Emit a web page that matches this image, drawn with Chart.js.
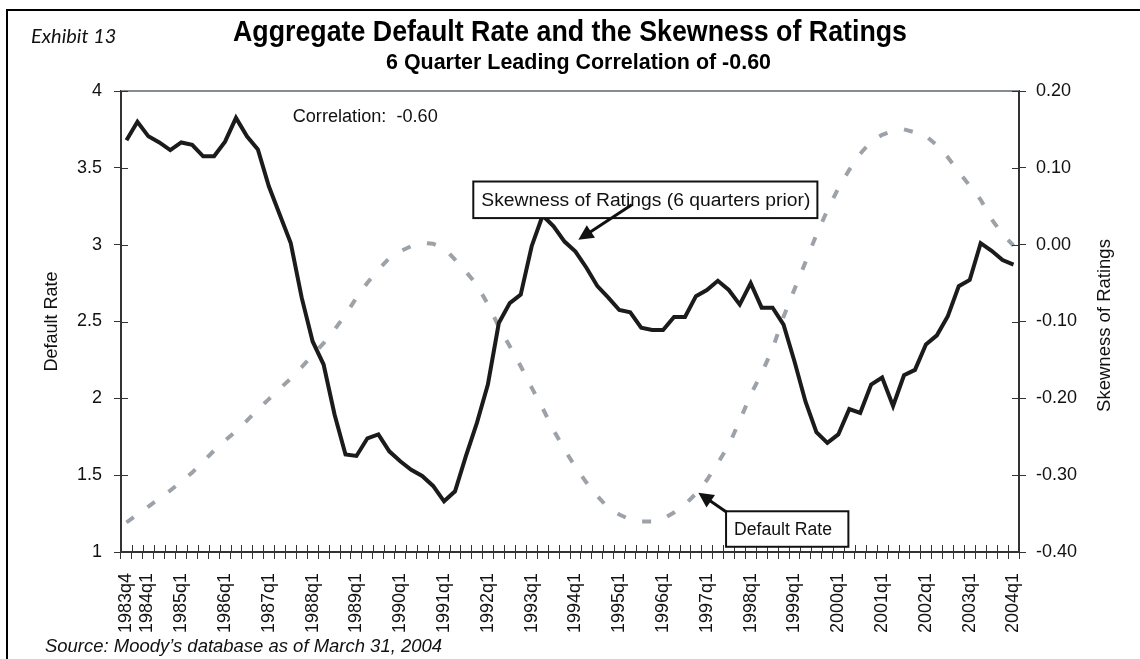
<!DOCTYPE html>
<html><head><meta charset="utf-8">
<script src="https://cdn.jsdelivr.net/npm/chart.js@4.4.1/dist/chart.umd.min.js"></script>
<style>html,body{margin:0;padding:0;background:#fff;}#wrap{width:1140px;height:659px;}</style>
</head><body><div id="wrap"><canvas id="c" width="1140" height="659"></canvas></div>
<script>
// ---- data ----
const quarters = [
 '1983q4',
 '1984q1','1984q2','1984q3','1984q4','1985q1','1985q2','1985q3','1985q4',
 '1986q1','1986q2','1986q3','1986q4','1987q1','1987q2','1987q3','1987q4',
 '1988q1','1988q2','1988q3','1988q4','1989q1','1989q2','1989q3','1989q4',
 '1990q1','1990q2','1990q3','1990q4','1991q1','1991q2','1991q3','1991q4',
 '1992q1','1992q2','1992q3','1992q4','1993q1','1993q2','1993q3','1993q4',
 '1994q1','1994q2','1994q3','1994q4','1995q1','1995q2','1995q3','1995q4',
 '1996q1','1996q2','1996q3','1996q4','1997q1','1997q2','1997q3','1997q4',
 '1998q1','1998q2','1998q3','1998q4','1999q1','1999q2','1999q3','1999q4',
 '2000q1','2000q2','2000q3','2000q4','2001q1','2001q2','2001q3','2001q4',
 '2002q1','2002q2','2002q3','2002q4','2003q1','2003q2','2003q3','2003q4',
 '2004q1'
];
// Skewness of Ratings (6 quarters prior) - right axis (black solid)
const skewness = [
 0.136,
 0.160,0.141,0.133,0.123,0.133,0.130,0.115,0.115,
 0.134,0.165,0.141,0.124,0.076,0.039,0.002,-0.069,
 -0.126,-0.156,-0.221,-0.273,-0.275,-0.252,-0.247,-0.269,
 -0.282,-0.293,-0.301,-0.314,-0.334,-0.321,-0.275,-0.232,
 -0.182,-0.102,-0.076,-0.065,-0.002,0.038,0.024,0.004,
 -0.009,-0.030,-0.054,-0.069,-0.085,-0.088,-0.108,-0.111,
 -0.111,-0.094,-0.094,-0.067,-0.059,-0.047,-0.059,-0.078,
 -0.050,-0.082,-0.082,-0.104,-0.152,-0.204,-0.244,-0.258,
 -0.247,-0.214,-0.219,-0.182,-0.173,-0.210,-0.170,-0.163,
 -0.130,-0.118,-0.093,-0.054,-0.046,0.002,-0.008,-0.020,
 -0.026
];
// Default Rate - left axis (gray dashed)
const defaultRate = [
 1.192,
 1.244,1.296,1.348,1.400,1.458,1.517,1.588,1.660,
 1.725,1.787,1.855,1.927,1.995,2.063,2.128,2.203,
 2.281,2.359,2.447,2.544,2.655,2.752,2.837,2.912,
 2.957,2.990,3.012,3.006,2.978,2.902,2.824,2.739,
 2.612,2.466,2.339,2.209,2.070,1.936,1.793,1.666,
 1.553,1.452,1.364,1.286,1.244,1.211,1.198,1.198,
 1.215,1.257,1.309,1.380,1.468,1.579,1.696,1.855,
 2.024,2.164,2.323,2.531,2.710,2.886,3.064,3.224,
 3.367,3.487,3.591,3.672,3.715,3.741,3.750,3.731,
 3.708,3.646,3.568,3.474,3.383,3.292,3.165,3.068,
 2.993
];
const leftTicks = [1, 1.5, 2, 2.5, 3, 3.5, 4];
const rightTicks = [-0.4, -0.3, -0.2, -0.1, 0, 0.1, 0.2];

// ---- annotation placement (in data units: category index, left-axis value) ----
const noteCorrelation = {text: 'Correlation:  -0.60', x: 15.18, y: 3.83};
const noteSkew = {text: 'Skewness of Ratings (6 quarters prior)', x0: 31.67, x1: 63.09, y0: 3.411, y1: 3.173, textW: 329,
  arrow: {fx: 46.14, fy: 3.259, tx: 41.26, ty: 3.032}};
const noteDefault = {text: 'Default Rate', x0: 54.75, x1: 65.92, y0: 1.265, y1: 1.034, textW: 98,
  arrow: {fx: 54.81, fy: 1.259, tx: 52.22, ty: 1.385}};

const SANS = "'Liberation Sans', Arial, Helvetica, sans-serif";
const INK = '#111';
const AX = '#333';

function line(ctx, x1, y1, x2, y2) { ctx.beginPath(); ctx.moveTo(x1, y1); ctx.lineTo(x2, y2); ctx.stroke(); }
// draw text squeezed/stretched horizontally to a target width
function fitText(ctx, text, x, y, w, align) {
  const m = ctx.measureText(text).width;
  ctx.save();
  ctx.translate(x, y);
  ctx.scale(w / m, 1);
  ctx.textAlign = align;
  ctx.fillText(text, 0, 0);
  ctx.restore();
}
function arrow(ctx, fx, fy, tx, ty) {
  const ang = Math.atan2(ty - fy, tx - fx), L = 15, W = 7.5;
  const bx = tx - L * Math.cos(ang), by = ty - L * Math.sin(ang);
  ctx.lineWidth = 3; ctx.strokeStyle = INK; ctx.fillStyle = INK;
  line(ctx, fx, fy, bx + 3 * Math.cos(ang), by + 3 * Math.sin(ang));
  ctx.beginPath();
  ctx.moveTo(tx, ty);
  ctx.lineTo(bx + W * Math.sin(ang), by - W * Math.cos(ang));
  ctx.lineTo(bx - W * Math.sin(ang), by + W * Math.cos(ang));
  ctx.closePath(); ctx.fill();
}

const decor = {
  id: 'decor',
  beforeDraw(chart) {
    const ctx = chart.ctx;
    ctx.save(); ctx.fillStyle = '#fff'; ctx.fillRect(0, 0, chart.width, chart.height); ctx.restore();
  },
  afterDatasetsDraw(chart) {
    const ctx = chart.ctx, ca = chart.chartArea;
    const xs = chart.scales.x, ys = chart.scales.y, yr = chart.scales.y1;
    const X = v => xs.getPixelForValue(v), Y = v => ys.getPixelForValue(v);
    ctx.save();
    // outer frame (top and left)
    ctx.strokeStyle = '#000'; ctx.lineWidth = 2;
    ctx.beginPath(); ctx.moveTo(7, chart.height); ctx.lineTo(7, 10); ctx.lineTo(chart.width, 10); ctx.stroke();
    // plot-area top border
    ctx.strokeStyle = '#858c92'; ctx.lineWidth = 2;
    line(ctx, ca.left, ca.top, ca.right, ca.top);
    // inner halves of the cross tick marks
    ctx.strokeStyle = AX; ctx.lineWidth = 1;
    ys.ticks.forEach(t => { const p = Math.round(ys.getPixelForValue(t.value)) + 0.5; line(ctx, ca.left, p, ca.left + 7, p); });
    yr.ticks.forEach(t => { const p = Math.round(yr.getPixelForValue(t.value)) + 0.5; line(ctx, ca.right - 7, p, ca.right, p); });
    for (let i = 0; i <= quarters.length; i++) {
      const p = Math.round(xs.getPixelForValue(i - 0.5)) + 0.5;
      line(ctx, p, ca.bottom - 7, p, ca.bottom);
    }
    // titles
    ctx.fillStyle = '#000'; ctx.textBaseline = 'middle';
    ctx.font = 'bold 29px ' + SANS;
    fitText(ctx, 'Aggregate Default Rate and the Skewness of Ratings', 570, 33, 674, 'center');
    ctx.font = 'bold 22px ' + SANS;
    fitText(ctx, '6 Quarter Leading Correlation of -0.60', 578.5, 63, 385, 'center');
    // correlation note
    ctx.fillStyle = INK; ctx.font = '18px ' + SANS; ctx.textBaseline = 'middle';
    fitText(ctx, noteCorrelation.text, X(noteCorrelation.x), Y(noteCorrelation.y), 145, 'left');
    // label boxes with arrows
    [noteSkew, noteDefault].forEach(n => {
      const l = X(n.x0), r = X(n.x1), t = Y(n.y0), b = Y(n.y1);
      ctx.fillStyle = '#fff'; ctx.fillRect(l, t, r - l, b - t);
      ctx.strokeStyle = INK; ctx.lineWidth = 2; ctx.strokeRect(l, t, r - l, b - t);
      ctx.fillStyle = INK; ctx.font = '18px ' + SANS; ctx.textBaseline = 'middle';
      fitText(ctx, n.text, l + 8, (t + b) / 2 + 1, n.textW, 'left');
      arrow(ctx, X(n.arrow.fx), Y(n.arrow.fy), X(n.arrow.tx), Y(n.arrow.ty));
    });
    // right axis title (reads bottom-to-top)
    ctx.save();
    ctx.translate(1105, (ca.top + ca.bottom) / 2 + 4);
    ctx.rotate(-Math.PI / 2);
    ctx.fillStyle = INK; ctx.font = '18.5px ' + SANS; ctx.textAlign = 'center'; ctx.textBaseline = 'middle';
    ctx.fillText('Skewness of Ratings', 0, 0);
    ctx.restore();
    // exhibit tag and source
    ctx.fillStyle = INK; ctx.textAlign = 'left'; ctx.textBaseline = 'middle';
    ctx.font = 'italic 20px Lato, "Open Sans", sans-serif';
    ctx.fillText('Exhibit 13', 31, 37);
    ctx.font = 'italic 18px ' + SANS;
    fitText(ctx, 'Source: Moody\u2019s database as of March 31, 2004', 45, 647, 397, 'left');
    ctx.restore();
  }
};

const xLabel = function (val, idx) {
  const l = this.getLabelForValue(val);
  if (idx === 1) return ['', l];          // nudged right of the crowded first label
  return (idx === 0 || l.endsWith('q1')) ? l : '';
};

new Chart(document.getElementById('c'), {
  type: 'line',
  data: {
    labels: quarters,
    datasets: [
      {label: 'Skewness of Ratings (6 quarters prior)', data: skewness, yAxisID: 'y1',
       borderColor: '#1b1b1b', borderWidth: 4, pointRadius: 0, tension: 0, borderJoinStyle: 'miter', order: 1},
      {label: 'Default Rate', data: defaultRate, yAxisID: 'y',
       borderColor: '#9ca2a7', borderWidth: 4, borderDash: [9, 17], borderCapStyle: 'butt', pointRadius: 0, tension: 0, order: 2}
    ]
  },
  options: {
    responsive: false, animation: false, devicePixelRatio: 1,
    layout: {padding: {left: 0, right: 0, top: 91, bottom: 0}},
    plugins: {legend: {display: false}, tooltip: {enabled: false}, title: {display: false}},
    scales: {
      x: {
        type: 'category', offset: true,
        grid: {display: true, drawOnChartArea: false, drawTicks: true, tickLength: 7, offset: true, color: AX, lineWidth: 1},
        border: {display: true, color: AX, width: 2},
        ticks: {autoSkip: false, maxRotation: 90, minRotation: 90, padding: 14, color: INK,
          font: c => ({family: SANS, size: 18, lineHeight: c.index === 1 ? 0.53 : 1.2}), callback: xLabel},
        afterFit: s => { s.height = 107; }
      },
      y: {
        position: 'left', min: 1, max: 4,
        afterBuildTicks: s => { s.ticks = leftTicks.map(v => ({value: v})); },
        grid: {display: true, drawOnChartArea: false, drawTicks: true, tickLength: 7, color: AX, lineWidth: 1},
        border: {display: true, color: AX, width: 2},
        ticks: {padding: 12, color: INK, font: {family: SANS, size: 18}, callback: v => String(v)},
        title: {display: true, text: 'Default Rate', color: INK, font: {family: SANS, size: 18, lineHeight: 1.2}, padding: {top: 41, bottom: 0}},
        afterFit: s => { s.width = 121; }
      },
      y1: {
        position: 'right', min: -0.4, max: 0.2,
        afterBuildTicks: s => { s.ticks = rightTicks.map(v => ({value: v})); },
        grid: {display: true, drawOnChartArea: false, drawTicks: true, tickLength: 7, color: AX, lineWidth: 1},
        border: {display: true, color: AX, width: 2},
        ticks: {padding: 10, color: INK, font: {family: SANS, size: 18}, callback: v => (Math.round(v * 100) / 100).toFixed(2)},
        afterFit: s => { s.width = 121; }
      }
    }
  },
  plugins: [decor]
});
</script>
</body></html>
